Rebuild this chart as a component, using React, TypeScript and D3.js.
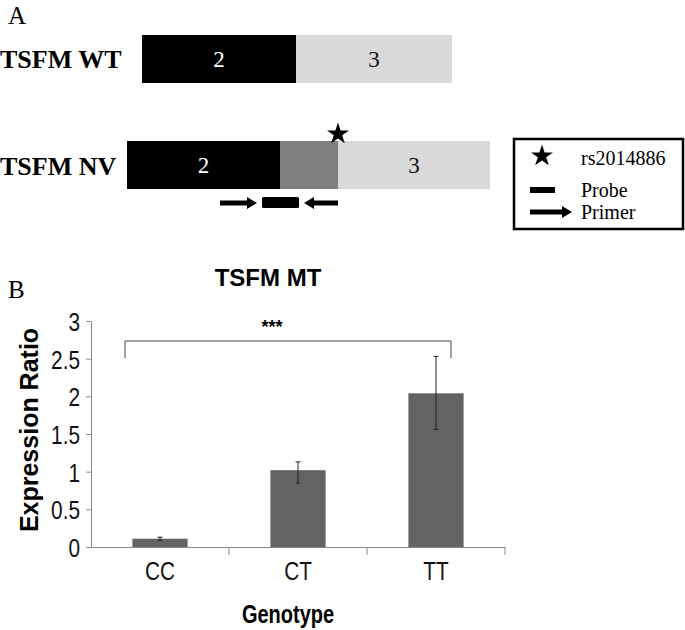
import React from 'react';
import * as d3 from 'd3';

// panel A: exon structure (segment lengths, arbitrary units)
const wtLabels = ['2', '3'];
const wtLengths = [154, 156];
const wtFills = ['#000000', '#d9d9d9'];

const nvLabels = ['2', '', '3'];
const nvLengths = [153, 58, 152];
const nvFills = ['#000000', '#808080', '#d9d9d9'];

// primer/probe positions on NV transcript (same units)
const fwdPrimer = [93, 130];
const probe = [135, 172];
const revPrimer = [177, 211];
const snpPos = 211;

const legendItems = ['rs2014886', 'Probe', 'Primer'];

// panel B: expression data
const genotypes = ['CC', 'CT', 'TT'];
const ratios = [0.11, 1.02, 2.04];
const errLow = [0.09, 0.85, 1.56];
const errHigh = [0.13, 1.13, 2.53];
const yTicks = [0, 0.5, 1, 1.5, 2, 2.5, 3];

const sans = '"Liberation Sans", Arial, sans-serif';
const serif = '"Liberation Serif", "Times New Roman", serif';
const squeeze = 0.8; // no narrow font installed, so squash horizontally

function arrowPath(x0: number, x1: number, y: number, dir: number) {
  // dir 1 = points right, -1 = points left
  const head = 10;
  const hw = 6;
  const sw = 2.5;
  if (dir > 0) {
    return `M${x0},${y - sw}L${x1 - head},${y - sw}L${x1 - head},${y - hw}L${x1},${y}L${x1 - head},${y + hw}L${x1 - head},${y + sw}L${x0},${y + sw}Z`;
  }
  return `M${x1},${y - sw}L${x0 + head},${y - sw}L${x0 + head},${y - hw}L${x0},${y}L${x0 + head},${y + hw}L${x0 + head},${y + sw}L${x1},${y + sw}Z`;
}

function Transcript({ lengths, fills, labels, x0, x1, y, h, children }: any) {
  const total = d3.sum(lengths);
  const x = d3.scaleLinear().domain([0, total]).range([x0, x1]);
  const starts = d3.cumsum([0, ...lengths]);
  return (
    <g>
      {lengths.map((len: number, i: number) => (
        <g key={i}>
          <rect x={x(starts[i])} y={y} width={x(starts[i] + len) - x(starts[i])} height={h} fill={fills[i]} />
          {labels[i] && (
            <text x={(x(starts[i]) + x(starts[i] + len)) / 2} y={y + h / 2 + 8} textAnchor="middle"
              fontFamily={serif} fontSize={23} fill={i === 0 ? '#fff' : '#111'}>{labels[i]}</text>
          )}
        </g>
      ))}
      {children && children(x)}
    </g>
  );
}

export default function App() {
  const star = d3.symbol(d3.symbolStar, 150)();

  // chart B scales
  const y = d3.scaleLinear().domain([0, 3]).range([547, 321]);
  const x = d3.scaleBand().domain(genotypes).range([91, 505]).padding(0);
  const barW = x.bandwidth() * 0.4;

  return (
    <svg width={685} height={630} style={{ position: 'absolute', left: 0, top: 0, background: '#fff' }}>
      {/* Panel A */}
      <text x={8} y={24} fontFamily={serif} fontSize={25}>A</text>
      <text x={0} y={68} fontFamily={serif} fontSize={26} fontWeight="bold">TSFM WT</text>
      <text x={0} y={175} fontFamily={serif} fontSize={26} fontWeight="bold">TSFM NV</text>

      <Transcript lengths={wtLengths} fills={wtFills} labels={wtLabels} x0={142} x1={452} y={35} h={48} />
      <Transcript lengths={nvLengths} fills={nvFills} labels={nvLabels} x0={127} x1={490} y={141} h={48}>
        {(sx: any) => (
          <g>
            <path d={star!} transform={`translate(${sx(snpPos)},134)`} fill="#000" />
            <path d={arrowPath(sx(fwdPrimer[0]), sx(fwdPrimer[1]), 203, 1)} fill="#000" />
            <rect x={sx(probe[0])} y={197} width={sx(probe[1]) - sx(probe[0])} height={11} rx={1.5} fill="#000" />
            <path d={arrowPath(sx(revPrimer[0]), sx(revPrimer[1]), 203, -1)} fill="#000" />
          </g>
        )}
      </Transcript>

      {/* legend */}
      <rect x={514} y={139} width={169} height={90} fill="#fff" stroke="#000" strokeWidth={2.5} />
      <path d={star!} transform="translate(542,156)" fill="#000" />
      <rect x={530} y={187} width={25} height={6} fill="#000" />
      <path d={arrowPath(530, 572, 212, 1)} fill="#000" />
      {legendItems.map((t, i) => (
        <text key={t} x={581} y={[165, 197, 219][i]} fontFamily={serif} fontSize={20}>{t}</text>
      ))}

      {/* Panel B */}
      <text x={8} y={298} fontFamily={serif} fontSize={25}>B</text>
      <text x={268} y={286} textAnchor="middle" fontFamily={sans} fontSize={24} fontWeight="bold">TSFM MT</text>

      {genotypes.map((g, i) => (
        <rect key={g} x={x(g)! + (x.bandwidth() - barW) / 2} y={y(ratios[i])} width={barW}
          height={y(0) - y(ratios[i])} fill="#636363" />
      ))}
      {genotypes.map((g, i) => {
        const cx = x(g)! + x.bandwidth() / 2;
        return (
          <g key={g} stroke="#222" strokeWidth={1}>
            <line x1={cx} x2={cx} y1={y(errLow[i])} y2={y(errHigh[i])} />
            <line x1={cx - 2.5} x2={cx + 2.5} y1={y(errLow[i])} y2={y(errLow[i])} />
            <line x1={cx - 2.5} x2={cx + 2.5} y1={y(errHigh[i])} y2={y(errHigh[i])} />
          </g>
        );
      })}

      <g ref={node => {
        if (!node) return;
        const ax = d3.select(node).call(d3.axisLeft(y).tickValues(yTicks).tickSize(5).tickSizeOuter(0).tickFormat(d => String(d)) as any);
        ax.selectAll('path, line').attr('stroke', '#8a8a8a');
        ax.selectAll('text').attr('font-family', sans).attr('font-size', 26).attr('fill', '#111')
          .attr('x', -11 / squeeze).attr('dy', '0.36em').attr('transform', `scale(${squeeze},1)`);
      }} transform="translate(91,0)" />
      <g ref={node => {
        if (!node) return;
        const ax = d3.select(node).call(d3.axisBottom(x).tickSize(0).tickSizeOuter(0) as any);
        ax.select('path').attr('stroke', '#8a8a8a');
        ax.selectAll('text').attr('font-family', sans).attr('font-size', 26).attr('fill', '#111')
          .attr('dy', 30).attr('transform', `scale(${squeeze},1)`);
        ax.selectAll('.tick line').remove();
        const edges = [...genotypes.map(g => x(g)!), x.range()[1]].slice(1);
        d3.select(node).selectAll('line.sep').data(edges).join('line').attr('class', 'sep')
          .attr('x1', d => d).attr('x2', d => d).attr('y1', 0).attr('y2', 8).attr('stroke', '#8a8a8a');
      }} transform={`translate(0,${y(0)})`} />

      {/* significance bracket */}
      <path d={`M125,358V341H451V358`} fill="none" stroke="#444" strokeWidth={1} />
      <text x={272} y={333} textAnchor="middle" fontFamily={sans} fontSize={18} fontWeight="bold">***</text>

      <text transform="translate(38,430) rotate(-90)" textAnchor="middle" fontFamily={sans} fontSize={25} fontWeight="bold">Expression Ratio</text>
      <text transform={`translate(288,623) scale(${squeeze},1)`} textAnchor="middle" fontFamily={sans} fontSize={25} fontWeight="bold">Genotype</text>
    </svg>
  );
}
